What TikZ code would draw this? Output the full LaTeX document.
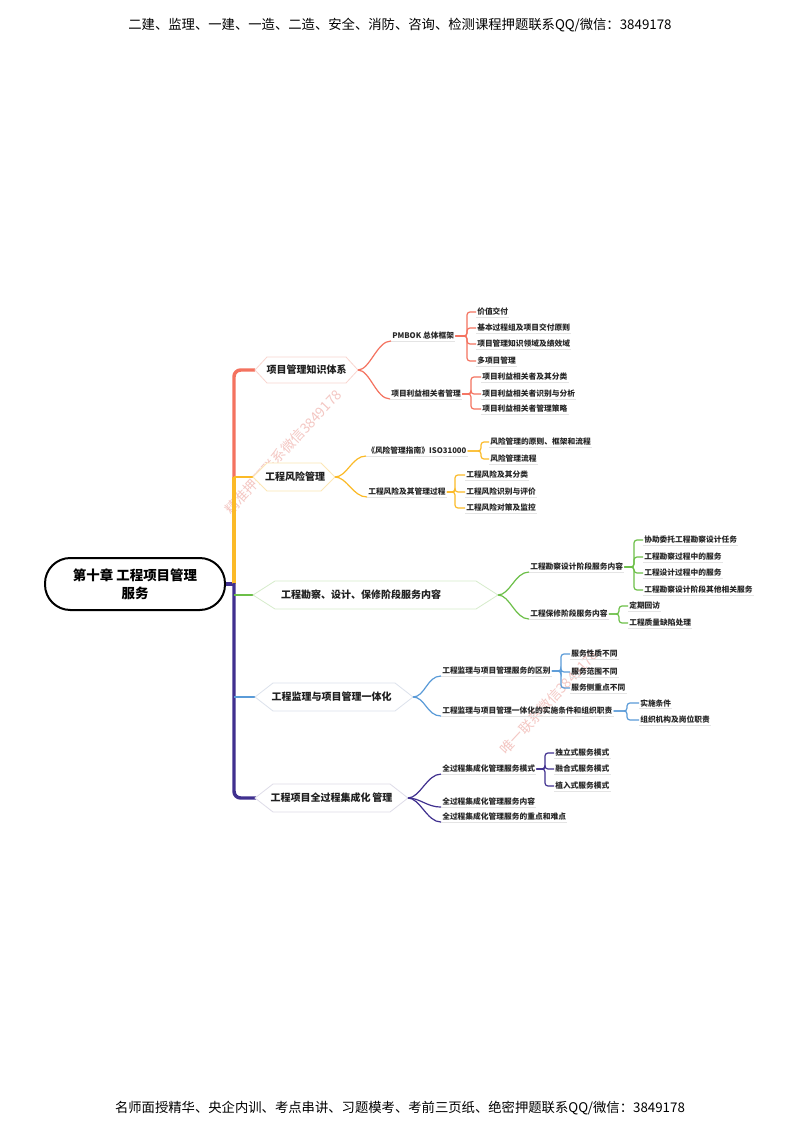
\documentclass[tikz,border=0pt]{standalone}
\usepackage{fontspec}
\setmainfont{Noto Sans CJK SC}
\usetikzlibrary{calc}
\definecolor{cR}{HTML}{F4725F}
\definecolor{cO}{HTML}{FBBA27}
\definecolor{cG}{HTML}{6CBF48}
\definecolor{cB}{HTML}{5A9BD8}
\definecolor{cP}{HTML}{40308F}
\definecolor{hR}{HTML}{F9D5CF}
\definecolor{hO}{HTML}{FCE6B5}
\definecolor{hG}{HTML}{D6ECCB}
\definecolor{hB}{HTML}{DCE2EC}
\definecolor{hP}{HTML}{DEDCE8}
\definecolor{wm}{HTML}{F1B9B4}
\definecolor{ul}{HTML}{E4E4E4}
\newcommand\myhexa[7]{%
  \coordinate (#1L) at (#2,#4);
  \coordinate (#1R) at (#3,#4);
  \draw[#7, line width=0.6pt, fill=white] (#1L) -- (#2+#6,#4-#5) -- (#3-#6,#4-#5) -- (#1R) -- (#3-#6,#4+#5) -- (#2+#6,#4+#5) -- cycle;}
\tikzset{
  small/.style={font=\fontsize{5.8pt}{6.5pt}\selectfont\bfseries, text=black!85, inner sep=0.75pt, anchor=west},
  mainT/.style={font=\fontsize{7.5pt}{8pt}\selectfont\bfseries, text=black!88, inner sep=0pt},
  uline/.style={draw=ul, line width=0.5pt},
  brk/.style={line width=0.9pt, rounded corners=2.2pt},
  crv/.style={line width=0.9pt},
  wmark/.style={font=\fontsize{10.3pt}{11pt}\selectfont, text=wm, opacity=0.8, rotate=47},
  banner/.style={font=\fontsize{10pt}{11pt}\selectfont, text=black}
}
\begin{document}
\begin{tikzpicture}[x=0.75pt,y=-0.75pt]
\fill[white] (0,0) rectangle (800,1130);
\useasboundingbox (0,0) rectangle (800,1130);

% header / footer
\node[banner] (head) at (400,25) {二建、监理、一建、一造、二造、安全、消防、咨询、检测课程押题联系QQ/微信：3849178};
\node[banner] (foot) at (400,1108) {名师面授精华、央企内训、考点串讲、习题模考、考前三页纸、绝密押题联系QQ/微信：3849178};

% watermarks
\node[wmark] (wm1) at (283,452) {精准押题联系微信3849178};
\node[wmark] (wm2) at (549,702) {唯一联系微信3849178};

% root
\node[draw=black, line width=1.5pt, fill=white, rounded corners=19pt, minimum width=135pt, minimum height=39pt, align=center,
      font=\fontsize{10.1pt}{13.5pt}\selectfont\bfseries, text=black] (root) at (135,584) {第十章 工程项目管理\\服务};

% trunk
\coordinate (tr) at (234,584);
\draw[cP, line width=2.6pt] (root.east) -- (tr);
\draw[cR, line width=2.6pt, rounded corners=5pt] (234,478) |- (255,370);
\draw[cO, line width=2.6pt] (234,584) -- (234,477);
\draw[cO, line width=1.8pt] (234,477) -- (254,477);
\draw[cP, line width=2.6pt, rounded corners=5pt] (234,583) |- (256,798);
\draw[cG, line width=1pt] (234,595) -- (254,595);
\draw[cB, line width=1pt] (234,697) -- (256,697);

% main topics
\myhexa{b1}{255}{358}{370}{13}{12}{hR}
\myhexa{b2}{253}{335}{477}{14}{14}{hO}
\myhexa{b3}{253}{498}{595}{14}{22}{hG}
\myhexa{b4}{255}{413}{697}{14}{18}{hB}
\myhexa{b5}{255}{408}{798}{14}{18}{hP}
\node[mainT] (b1) at (306.5,370) {项目管理知识体系};
\node[mainT] (b2) at (295,477) {工程风险管理};
\node[mainT] (b3) at (361,595) {工程勘察、设计、保修阶段服务内容};
\node[mainT] (b4) at (331.5,697) {工程监理与项目管理一体化};
\node[mainT] (b5) at (331.5,798) {工程项目全过程集成化\,管理};

% subtopics
\node[small] (s11) at (391,336) {PMBOK 总体框架};
\node[small] (s12) at (390,394) {项目利益相关者管理};
\node[small] (s21) at (366,451) {《风险管理指南》ISO31000};
\node[small] (s22) at (367,492) {工程风险及其管理过程};
\node[small] (s31) at (529,567) {工程勘察设计阶段服务内容};
\node[small] (s32) at (529,614) {工程保修阶段服务内容};
\node[small] (s41) at (441,671) {工程监理与项目管理服务的区别};
\node[small] (s42) at (441,711) {工程监理与项目管理一体化的实施条件和组织职责};
\node[small] (s51) at (441,769) {全过程集成化管理服务模式};
\node[small] (s52) at (441,802) {全过程集成化管理服务内容};
\node[small] (s53) at (441,817) {全过程集成化管理服务的重点和难点};

% leaves
\node[small] (l111) at (476,312) {价值交付};
\node[small] (l112) at (476,328) {基本过程组及项目交付原则};
\node[small] (l113) at (476,344) {项目管理知识领域及绩效域};
\node[small] (l114) at (476,361) {多项目管理};
\node[small] (l121) at (481,377) {项目利益相关者及其分类};
\node[small] (l122) at (481,394) {项目利益相关者识别与分析};
\node[small] (l123) at (481,409) {项目利益相关者管理策略};
\node[small] (l211) at (489,442) {风险管理的原则、框架和流程};
\node[small] (l212) at (489,459) {风险管理流程};
\node[small] (l221) at (465,475) {工程风险及其分类};
\node[small] (l222) at (465,492) {工程风险识别与评价};
\node[small] (l223) at (465,508) {工程风险对策及监控};
\node[small] (l311) at (643,540) {协助委托工程勘察设计任务};
\node[small] (l312) at (643,557) {工程勘察过程中的服务};
\node[small] (l313) at (643,573) {工程设计过程中的服务};
\node[small] (l314) at (643,590) {工程勘察设计阶段其他相关服务};
\node[small] (l321) at (628,606) {定期回访};
\node[small] (l322) at (628,623) {工程质量缺陷处理};
\node[small] (l411) at (570,654) {服务性质不同};
\node[small] (l412) at (570,672) {服务范围不同};
\node[small] (l413) at (570,688) {服务侧重点不同};
\node[small] (l421) at (639,703) {实施条件};
\node[small] (l422) at (639,720) {组织机构及岗位职责};
\node[small] (l511) at (554,753) {独立式服务模式};
\node[small] (l512) at (554,769) {融合式服务模式};
\node[small] (l513) at (554,786) {植入式服务模式};

% underlines
\foreach \n in {s11,s12,s21,s22,s31,s32,s41,s42,s51,s52,s53,
  l111,l112,l113,l114,l121,l122,l123,l211,l212,l221,l222,l223,
  l311,l312,l313,l314,l321,l322,l411,l412,l413,l421,l422,l511,l512,l513}
  \draw[uline] (\n.south west) -- (\n.south east);

% curves from main topics to subtopics
\draw[crv, cR] (b1R) .. controls +(12,0) and +(-14,0) .. (s11.south west);
\draw[crv, cR] (b1R) .. controls +(12,0) and +(-14,0) .. (s12.south west);
\draw[crv, cO] (b2R) .. controls +(12,0) and +(-14,0) .. (s21.south west);
\draw[crv, cO] (b2R) .. controls +(12,0) and +(-14,0) .. (s22.south west);
\draw[crv, cG] (b3R) .. controls +(12,0) and +(-14,0) .. (s31.south west);
\draw[crv, cG] (b3R) .. controls +(12,0) and +(-14,0) .. (s32.south west);
\draw[crv, cB] (b4R) .. controls +(12,0) and +(-14,0) .. (s41.south west);
\draw[crv, cB] (b4R) .. controls +(12,0) and +(-14,0) .. (s42.south west);
\draw[crv, cP] (b5R) .. controls +(12,0) and +(-14,0) .. (s51.south west);
\draw[crv, cP] (b5R) .. controls +(12,0) and +(-14,0) .. (s52.south west);
\draw[crv, cP] (b5R) .. controls +(12,0) and +(-14,0) .. (s53.south west);

% bracket x positions
\coordinate (k11) at (467,0);
\coordinate (k12) at (471,0);
\coordinate (k21) at (481,0);
\coordinate (k22) at (455,0);
\coordinate (k31) at (634,0);
\coordinate (k32) at (619,0);
\coordinate (k41) at (561,0);
\coordinate (k42) at (627,0);
\coordinate (k51) at (545,0);

% brackets
\foreach \l in {l111,l112,l113,l114}
  \draw[brk, cR] (s11.east) -- (s11.east -| k11) |- (\l.west);
\foreach \l in {l121,l122,l123}
  \draw[brk, cR] (s12.east) -- (s12.east -| k12) |- (\l.west);
\foreach \l in {l211,l212}
  \draw[brk, cO] (s21.east) -- (s21.east -| k21) |- (\l.west);
\foreach \l in {l221,l222,l223}
  \draw[brk, cO] (s22.east) -- (s22.east -| k22) |- (\l.west);
\foreach \l in {l311,l312,l313,l314}
  \draw[brk, cG] (s31.east) -- (s31.east -| k31) |- (\l.west);
\foreach \l in {l321,l322}
  \draw[brk, cG] (s32.east) -- (s32.east -| k32) |- (\l.west);
\foreach \l in {l411,l412,l413}
  \draw[brk, cB] (s41.east) -- (s41.east -| k41) |- (\l.west);
\foreach \l in {l421,l422}
  \draw[brk, cB] (s42.east) -- (s42.east -| k42) |- (\l.west);
\foreach \l in {l511,l512,l513}
  \draw[brk, cP] (s51.east) -- (s51.east -| k51) |- (\l.west);
\end{tikzpicture}
\end{document}
